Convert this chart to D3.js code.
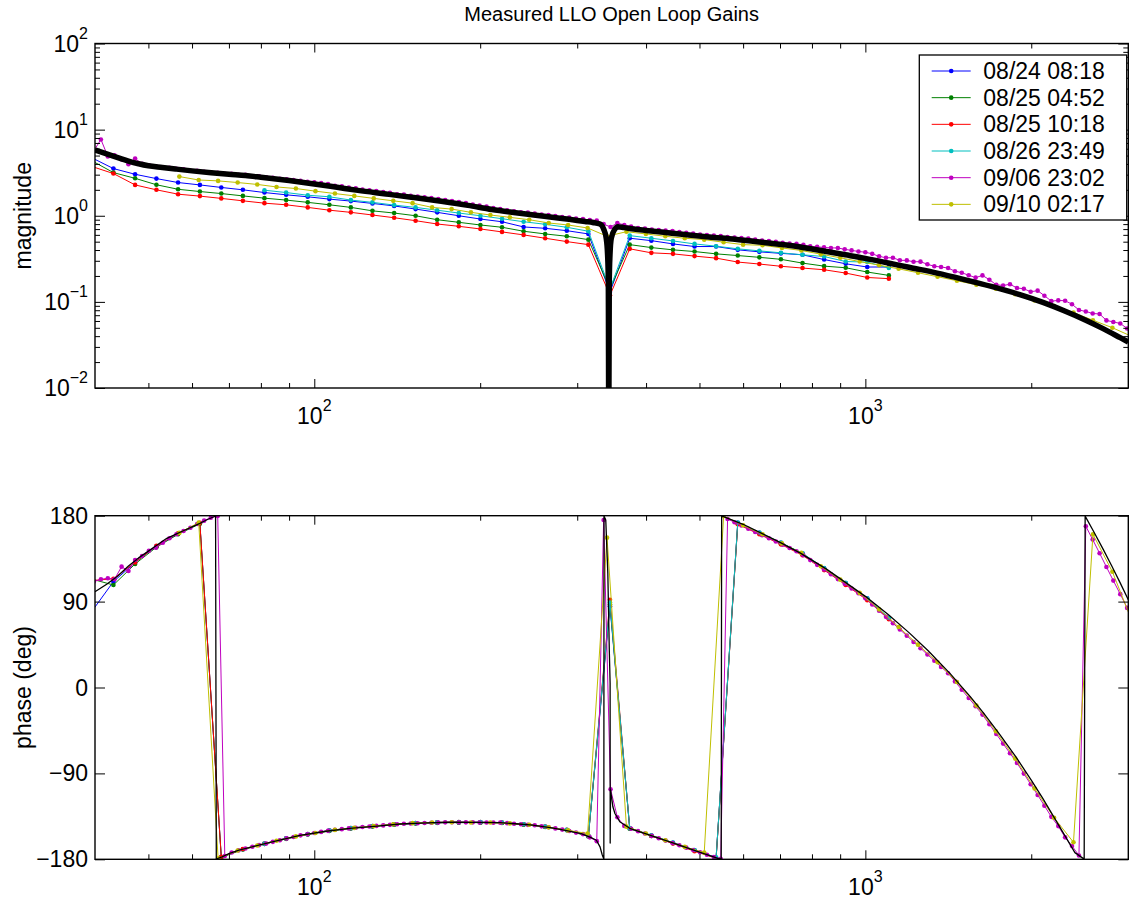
<!DOCTYPE html>
<html>
<head>
<meta charset="utf-8">
<script src="https://cdn.jsdelivr.net/npm/d3@7"></script>
<style>
  body { margin: 0; background: #fff; }
  text { font-family: "Liberation Sans", Arial, Helvetica, sans-serif; fill: #000; }
</style>
</head>
<body>
<svg id="chart" width="1129" height="902"></svg>
<script>
// ---------- chart text ----------
const titleText = "Measured LLO Open Loop Gains";
const magLabel = "magnitude";
const phaseLabel = "phase (deg)";

// ---------- axis domains and ticks ----------
const freqDomain = [40, 3000];
const magDomain = [0.01, 100];
const phaseDomain = [-180, 180];
const freqMajor = [100, 1000];
const freqMajorExp = ["2", "3"];
const freqMinor = [50, 60, 70, 80, 90, 200, 300, 400, 500, 600, 700, 800, 900, 2000, 3000];
const magMajor = [0.01, 0.1, 1, 10, 100];
const magMajorExp = ["\u22122", "\u22121", "0", "1", "2"];
const magMinor = [0.02, 0.03, 0.04, 0.05, 0.06, 0.07, 0.08, 0.09,
                  0.2, 0.3, 0.4, 0.5, 0.6, 0.7, 0.8, 0.9,
                  2, 3, 4, 5, 6, 7, 8, 9,
                  20, 30, 40, 50, 60, 70, 80, 90];
const phaseTicks = [-180, -90, 0, 90, 180];
const phaseTickLabels = ["\u2212180", "\u221290", "0", "90", "180"];

// ---------- legend ----------
const seriesNames = ["08/24 08:18", "08/25 04:52", "08/25 10:18", "08/26 23:49", "09/06 23:02", "09/10 02:17"];
const seriesColors = ["#0000ff", "#008000", "#ff0000", "#00bfbf", "#bf00bf", "#bfbf00"];

// ---------- swept-sine measurements: 08/24, 08/25 (x2) ----------
const freqSweep = [39.5, 43.2, 47.3, 51.7, 56.6, 62.0, 67.8, 74.2, 81.2, 88.9,
  97.3, 106.5, 116.5, 127.5, 139.6, 152.7, 167.1, 182.9, 200.2, 219.1,
  239.8, 262.4, 287.2, 314.3, 344, 373.6, 408.9, 447.6, 489.8, 536.0,
  586.7, 642.1, 702.6, 769.0, 841.7, 921.1, 1007.9, 1103.1];

const magBlue = [4.70, 3.53, 3.03, 2.70, 2.43, 2.28, 2.13, 2.00, 1.86, 1.75,
  1.66, 1.56, 1.48, 1.39, 1.30, 1.195, 1.095, 1.00, 0.916, 0.852,
  0.741, 0.715, 0.671, 0.615, 0.130, 0.548, 0.514, 0.471, 0.439, 0.439,
  0.402, 0.381, 0.366, 0.352, 0.310, 0.277, 0.254, 0.254];
const phaseBlue = [80, 110.9, 131, 148, 161, 172, -177.8, -169.4, -163.8, -158.2,
  -153.7, -150, -147.4, -145.3, -143.4, -142.2, -141.5, -141.3, -141.3, -141.7,
  -143.4, -145.9, -149.3, -155.6, 85, -147.5, -155.1, -162.8, -170.5, -178.3,
  172.5, 162.1, 151.5, 140.3, 124.9, 109.3, 93.2, 72.7];

const magGreen = [4.34, 3.17, 2.72, 2.29, 2.03, 1.91, 1.81, 1.70, 1.60, 1.52,
  1.43, 1.34, 1.25, 1.14, 1.075, 1.00, 0.899, 0.839, 0.781, 0.735,
  0.661, 0.615, 0.578, 0.528, 0.142, 0.462, 0.427, 0.402, 0.384, 0.361,
  0.345, 0.329, 0.312, 0.282, 0.260, 0.249, 0.222, 0.203];
const phaseGreen = [113.5, 107.4, 129.4, 147, 160.5, 171.5, -178, -169.8, -164, -158.6,
  -154, -150.4, -147.7, -145.6, -143.7, -142.5, -141.8, -141.6, -141.6, -142,
  -143.7, -146.2, -149.6, -156, 87, -148, -155.6, -163.2, -171, -178.6,
  172, 161.6, 151, 139.8, 124.4, 108.8, 92.7, 72.2];

const magRed = [3.73, 3.09, 2.28, 2.00, 1.78, 1.69, 1.59, 1.49, 1.40, 1.34,
  1.25, 1.16, 1.095, 1.02, 0.948, 0.876, 0.802, 0.754, 0.702, 0.649,
  0.599, 0.548, 0.501, 0.462, 0.119, 0.413, 0.371, 0.361, 0.340, 0.322,
  0.290, 0.275, 0.259, 0.247, 0.236, 0.216, 0.192, 0.186];
const phaseRed = [112, 114, 131, 148.5, 161.5, 172.5, -177.5, -169.2, -163.5, -158,
  -153.5, -149.8, -147.2, -145.1, -143.2, -142, -141.3, -141.1, -141.1, -141.5,
  -143.2, -145.7, -149.1, -155.3, 92, -147.2, -155.5, -163.5, -171.5, -179,
  171, 160.5, 150, 138.5, 123, 107.5, 91.5, 71.5];

// ---------- 08/26 sweep (starts at 81 Hz) ----------
const freqCyan = [81.2, 88.9, 97.3, 106.5, 116.5, 127.5, 139.6, 152.7, 167.1, 182.9,
  200.2, 219.1, 239.8, 262.4, 287.2, 314.3, 344, 373.6, 408.9, 447.6,
  489.8, 536.0, 586.7, 642.1, 702.6, 769.0, 841.7, 921.1, 1007.9, 1103.1];
const magCyan = [1.98, 1.86, 1.73, 1.66, 1.52, 1.43, 1.33, 1.25, 1.16, 1.075,
  1.00, 0.924, 0.852, 0.796, 0.735, 0.661, 0.142, 0.588, 0.548, 0.510,
  0.471, 0.443, 0.413, 0.391, 0.371, 0.352, 0.336, 0.294, 0.290, 0.247];
const phaseCyan = [-163.6, -158, -153.5, -149.8, -147.2, -145.1, -143.2, -142, -141.3, -141.1,
  -141.1, -141.5, -143.2, -145.7, -149.1, -155.3, 89, -147.3, -154.8, -162.5,
  -170.2, -178, 172.8, 162.4, 151.8, 140.6, 125.2, 109.6, 93.5, 73];

// ---------- 09/06 dense sweep ----------
const freqMagenta = [39.8, 41.0, 42.2, 43.4, 44.7, 46.0, 47.3, 48.7, 50.1, 51.6,
  53.1, 54.6, 56.2, 57.9, 59.6, 61.3, 63.1, 64.9, 66.8, 68.8,
  70.8, 72.9, 75.0, 77.2, 79.4, 81.8, 84.1, 86.6, 89.1, 91.7,
  94.4, 97.2,
  100, 102.9, 105.9, 109.0, 112.2, 115.5, 118.9, 122.3, 125.9, 129.6,
  133.4, 137.2, 141.3, 145.4, 149.6, 154.0, 158.5, 163.1, 167.9, 172.8,
  177.8, 183.0, 188.4, 193.9, 199.5, 205.4, 211.3, 217.5, 223.9, 230.4,
  237.1, 244.1, 251.2, 258.5, 266.1, 273.8, 281.8, 290.1, 298.5, 307.3,
  316.2, 325.5, 335.0, 344.8, 354.8, 365.2, 375.8, 386.8, 398.1, 409.7,
  421.7, 434.0, 446.7, 459.7, 473.2, 487.0, 501.2, 515.8, 530.9, 546.4,
  562.3, 578.8, 595.7, 613.1, 631.0, 649.4, 668.3, 687.9, 707.9, 728.6,
  749.9, 771.8, 794.3, 817.5, 841.4, 866.0, 891.3, 917.3, 944.1, 971.6,
  1000, 1029, 1059, 1090, 1122, 1155, 1189, 1223, 1259, 1296,
  1334, 1372, 1413, 1454, 1496, 1540, 1585, 1631, 1679, 1728,
  1778, 1830, 1884, 1939, 1995, 2054, 2113, 2175, 2239, 2304,
  2371, 2441, 2512, 2585, 2661, 2738, 2818, 2901, 2985, 3073];
const magMagenta = [5.67, 7.69, 4.89, 5.02, 4.52, 3.96, 4.61, 4.01, 3.85, 3.75,
  3.65, 3.60, 3.51, 3.46, 3.33, 3.33, 3.24, 3.20, 3.15, 3.07,
  3.07, 2.99, 2.99, 2.88, 2.88, 2.80, 2.76, 2.69, 2.65, 2.59,
  2.55, 2.48,
  2.45, 2.39, 2.33, 2.23, 2.20, 2.12, 2.09, 2.01, 1.98, 1.93,
  1.88, 1.85, 1.78, 1.76, 1.71, 1.67, 1.64, 1.60, 1.56, 1.52,
  1.48, 1.44, 1.40, 1.35, 1.31, 1.28, 1.23, 1.20, 1.16, 1.13,
  1.10, 1.09, 1.06, 1.03, 1.02, 0.99, 0.966, 0.953, 0.93, 0.916,
  0.892, 0.88, 0.80, 0.74, 0.823, 0.781, 0.75, 0.72, 0.711, 0.693,
  0.684, 0.674, 0.666, 0.648, 0.632, 0.623, 0.606, 0.598, 0.59, 0.583,
  0.567, 0.56, 0.552, 0.545, 0.531, 0.517, 0.510, 0.497, 0.484, 0.477,
  0.471, 0.459, 0.441, 0.435, 0.429, 0.423, 0.423, 0.407, 0.396, 0.385,
  0.377, 0.361, 0.338, 0.325, 0.325, 0.304, 0.303, 0.292, 0.293, 0.273,
  0.259, 0.254, 0.247, 0.227, 0.218, 0.204, 0.191, 0.203, 0.181, 0.158,
  0.155, 0.16, 0.145, 0.142, 0.131, 0.135, 0.118, 0.102, 0.104, 0.103,
  0.094, 0.0805, 0.0774, 0.0733, 0.0724, 0.0609, 0.0585, 0.0562, 0.0491, 0.0465];
const phaseMagenta = [111, 113.4, 114.4, 113.4, 126.6, 122, 133.6, 137.8, 143.3, 146.5,
  151.7, 156.3, 160.5, 164, 167.4, 171.3, 174.8, 177.9, 179.8, -176.5,
  -172.8, -170.6, -168.7, -166.8, -165.1, -163.4, -161.7, -160.0, -158.1, -156.6,
  -154.9, -153.7,
  -152.5, -151.3, -150.2, -149.1, -148.4, -147.6, -146.9, -146.1, -145.6, -145.0,
  -144.5, -143.9, -143.3, -142.8, -142.5, -142.2, -141.9, -141.7, -141.5, -141.3,
  -141.2, -141.2, -141.3, -141.3, -141.4, -141.5, -141.6, -141.6, -142.1, -142.7,
  -143.3, -143.9, -144.4, -145.5, -146.4, -147.6, -148.9, -150.3, -152, -153.6,
  -157, -161, 175.5, -106.6, -136, -145, -148, -150.5, -153, -155.5,
  -158, -160.4, -162.9, -165.3, -167.8, -170.3, -172.7, -175.2, -177.6, -179.6,
  176.5, 173.2, 169.8, 166.4, 163, 159.6, 156.3, 153, 149.5, 146.1,
  142.7, 138.5, 133.5, 128.5, 123.6, 118.6, 113.6, 108.7, 103.7, 98.8,
  93.5, 87, 80.5, 74, 67.4, 60.8, 54.3, 47.7, 41.2, 34.6,
  28.1, 21.5, 15, 6.4, -2.3, -11, -19.7, -28.4, -38.5, -48.7,
  -58.8, -68.9, -79, -90.2, -101.4, -112.6, -123.8, -135.5, -145.2, -157,
  -166, -176, 169, 155, 140.7, 126.3, 112, 97.8, 83.4, 69];

// ---------- 09/10 sweep ----------
const freqYellow = [56.9, 61.7, 66.9, 72.6, 78.8, 85.4, 92.6, 100.5, 109.0, 118.2,
  128.2, 139.1, 150.8, 163.6, 177.5, 192.4, 208.7, 226.4, 245.5, 266.3,
  288.8, 313.3, 339.8, 368.5, 399.7, 433.5, 470.2, 510.0, 553.1, 599.9,
  650.7, 705.7, 765.4, 830.2, 900.5, 976.6, 1059, 1149, 1246, 1352,
  1466, 1590, 1725, 1870, 2028, 2200, 2386, 2588, 2807, 3044];
const magYellow = [2.85, 2.60, 2.54, 2.43, 2.31, 2.16, 2.07, 1.93, 1.81, 1.70,
  1.59, 1.49, 1.40, 1.25, 1.195, 1.095, 1.02, 0.958, 0.899, 0.824,
  0.781, 0.721, 0.578, 0.653, 0.615, 0.578, 0.548, 0.528, 0.493, 0.462,
  0.454, 0.423, 0.395, 0.358, 0.325, 0.294, 0.267, 0.242, 0.218, 0.196,
  0.176, 0.158, 0.142, 0.123, 0.104, 0.0892, 0.0752, 0.0612, 0.0501, 0.0397];
const phaseYellow = [162, 172.7, -179, -170.8, -165.6, -160.6, -156, -152.4, -149.2, -147.1,
  -145.2, -143.3, -142.1, -141.5, -141.2, -141.4, -141.5, -142.4, -143.8, -146.5,
  -149.7, -153, 157, -145.8, -153, -160, -167, -173, 179.6, 170,
  160.5, 151, 141, 127, 113, 99.1, 81.9, 63.4, 44.9, 26.5,
  5.7, -18.8, -45.9, -74.5, -105.8, -136.4, -162.2, 160.5, 121.3, 70];

// ---------- loop model ----------
const freqModelMag = [40, 42, 44, 46, 48, 50, 53, 56, 60, 65,
  70, 75, 80, 90, 100, 110, 120, 135, 150, 170,
  190, 210, 230, 250, 270, 290, 310, 320, 330, 335,
  338.6, 340.6, 341.6, 342.3, 343.0, 344.0, 345.9, 351.2, 355.6, 365,
  380, 400, 430, 470, 520, 580, 650, 730, 820, 920,
  1000, 1100, 1200, 1350, 1500, 1700, 1900, 2100, 2300, 2500,
  2700, 2900, 3000];
const magModel = [5.79, 5.22, 4.74, 4.32, 4.02, 3.81, 3.64, 3.49, 3.32, 3.16,
  3.03, 2.93, 2.80, 2.56, 2.34, 2.14, 1.97, 1.79, 1.64, 1.47,
  1.32, 1.18, 1.09, 1.02, 0.961, 0.909, 0.857, 0.835, 0.80, 0.70,
  0.55, 0.35, 0.18, 0.003, 0.18, 0.35, 0.55, 0.70, 0.745, 0.728,
  0.70, 0.675, 0.643, 0.605, 0.566, 0.533, 0.492, 0.452, 0.400, 0.352,
  0.320, 0.283, 0.252, 0.216, 0.184, 0.150, 0.122, 0.0985, 0.0783, 0.0620,
  0.0489, 0.0384, 0.0342];

const freqModelPhase = [40, 42, 44, 46, 48, 50, 52, 54, 56, 58,
  60, 62, 64, 66.2, 66.4, 68, 70, 73, 76.5, 80,
  85, 94.2, 105, 116, 130, 143, 160, 176, 195, 217,
  235, 249, 270, 287, 305, 318, 325, 330, 333, 335.3,
  335.5, 338, 340.9, 343, 344.2, 344.3, 344.8, 348.2, 351.2, 358.4,
  373.6, 400, 450, 500, 540, 547.5, 548.5, 600, 700, 761,
  850, 1000, 1100, 1200, 1300, 1425, 1550, 1635, 1750, 1877,
  2000, 2100, 2200, 2300, 2400, 2495, 2505, 2600, 2700, 2800,
  2900, 3000];
const phaseModel = [100.4, 108.2, 116.9, 127.2, 135.8, 142.9, 149.8, 156.3, 160.5, 164.5,
  168.3, 172, 176, 179.7, -179.7, -177.5, -174.1, -170.4, -167.4, -164.6,
  -161, -155, -150.6, -147.5, -145.2, -143, -141.9, -141.2, -141.4, -141.6,
  -143, -144.1, -147, -149.9, -153.2, -157.3, -160, -167, -175.2, -179.8,
  179.8, 175.5, 120, 40, 4.4, -163, -107, -125, -132, -140.6,
  -147.5, -153.3, -163.4, -172.4, -179, -179.9, 179.9, 171, 152, 141,
  124, 95.5, 76.5, 57.5, 38.5, 14.5, -9.5, -26, -48.5, -73,
  -97, -116.5, -136, -155, -173, -179.8, 179.5, 162.7, 145, 127.3,
  109.6, 91.9];

// ---------- layout ----------
const svg = d3.select("#chart");
const plotLeft = 95, plotRight = 1128.3;
const magTop = 43.5, magBottom = 388;
const phTop = 515.7, phBottom = 859.3;
const fontSize = 23, supSize = 16;

const x = d3.scaleLog().domain(freqDomain).range([plotLeft, plotRight]);
const yMag = d3.scaleLog().domain(magDomain).range([magBottom, magTop]);
const yPh = d3.scaleLinear().domain(phaseDomain).range([phBottom, phTop]);

const zip = (a, b) => a.map((v, i) => [v, b[i]]);

const measured = [
  { f: freqSweep, m: magBlue, p: phaseBlue },
  { f: freqSweep, m: magGreen, p: phaseGreen },
  { f: freqSweep, m: magRed, p: phaseRed },
  { f: freqCyan, m: magCyan, p: phaseCyan },
  { f: freqMagenta, m: magMagenta, p: phaseMagenta },
  { f: freqYellow, m: magYellow, p: phaseYellow }
];

// clip regions
const defs = svg.append("defs");
defs.append("clipPath").attr("id", "clipMag").append("rect")
  .attr("x", plotLeft).attr("y", magTop).attr("width", plotRight - plotLeft).attr("height", magBottom - magTop);
defs.append("clipPath").attr("id", "clipPh").append("rect")
  .attr("x", plotLeft).attr("y", phTop).attr("width", plotRight - plotLeft).attr("height", phBottom - phTop);

function drawPanel(yScale, clipId, valueKey, model, modelWidth, modelCurve) {
  const g = svg.append("g").attr("clip-path", `url(#${clipId})`);
  const line = d3.line().x(d => x(d[0])).y(d => yScale(d[1]));
  measured.forEach((s, i) => {
    const pts = zip(s.f, s[valueKey]);
    g.append("path").datum(pts)
      .attr("fill", "none").attr("stroke", seriesColors[i]).attr("stroke-width", 1)
      .attr("d", line);
    g.selectAll(null).data(pts).enter().append("circle")
      .attr("cx", d => x(d[0])).attr("cy", d => yScale(d[1]))
      .attr("r", 2.3).attr("fill", seriesColors[i]);
  });
  g.append("path").datum(model)
    .attr("fill", "none").attr("stroke", "#000").attr("stroke-width", modelWidth)
    .attr("stroke-linejoin", "round")
    .attr("d", line.curve(modelCurve));
}

drawPanel(yMag, "clipMag", "m", zip(freqModelMag, magModel), 5.5, d3.curveMonotoneX);
drawPanel(yPh, "clipPh", "p", zip(freqModelPhase, phaseModel), 1.3, d3.curveLinear);

// ---------- axes (ticks inside on all four sides) ----------
function ticksX(top, bottom) {
  const mk = (axisFn, y, vals, len) => svg.append("g")
    .attr("transform", `translate(0,${y})`)
    .call(axisFn(x).tickValues(vals).tickSize(len).tickFormat(""))
    .call(g => g.select(".domain").remove())
    .call(g => g.selectAll("line").attr("stroke", "#000").attr("stroke-width", 1));
  mk(d3.axisBottom, bottom, freqMajor, -9);
  mk(d3.axisBottom, bottom, freqMinor, -5);
  mk(d3.axisTop, top, freqMajor, -9);
  mk(d3.axisTop, top, freqMinor, -5);
}
function ticksY(scale, majors, minors) {
  const mk = (axisFn, xPos, vals, len) => svg.append("g")
    .attr("transform", `translate(${xPos},0)`)
    .call(axisFn(scale).tickValues(vals).tickSize(len).tickFormat(""))
    .call(g => g.select(".domain").remove())
    .call(g => g.selectAll("line").attr("stroke", "#000").attr("stroke-width", 1));
  mk(d3.axisLeft, plotLeft, majors, -10);
  mk(d3.axisRight, plotRight, majors, -10);
  if (minors) {
    mk(d3.axisLeft, plotLeft, minors, -5);
    mk(d3.axisRight, plotRight, minors, -5);
  }
}
ticksX(magTop, magBottom);
ticksX(phTop, phBottom);
ticksY(yMag, magMajor, magMinor);
ticksY(yPh, phaseTicks, null);

// frames
[[magTop, magBottom], [phTop, phBottom]].forEach(([t, b]) => {
  svg.append("rect").attr("x", plotLeft).attr("y", t)
    .attr("width", plotRight - plotLeft).attr("height", b - t)
    .attr("fill", "none").attr("stroke", "#000").attr("stroke-width", 1.4);
});

// x tick labels (10^n)
[magBottom, phBottom].forEach(b => {
  const lbl = svg.append("g").selectAll("text").data(freqMajor).enter().append("text")
    .attr("x", d => x(d)).attr("y", b + 36)
    .attr("text-anchor", "middle").style("font-size", fontSize + "px");
  lbl.append("tspan").text("10");
  lbl.append("tspan").attr("dy", -13).style("font-size", supSize + "px")
    .text((d, i) => freqMajorExp[i]);
});

// magnitude tick labels
{
  const lbl = svg.append("g").selectAll("text").data(magMajor).enter().append("text")
    .attr("x", 88).attr("y", d => yMag(d) + 8)
    .attr("text-anchor", "end").style("font-size", fontSize + "px");
  lbl.append("tspan").text("10");
  lbl.append("tspan").attr("dy", -13).style("font-size", supSize + "px")
    .text((d, i) => magMajorExp[i]);
}
// phase tick labels
svg.append("g").selectAll("text").data(phaseTicks).enter().append("text")
  .attr("x", 88).attr("y", d => yPh(d) + 8)
  .attr("text-anchor", "end").style("font-size", fontSize + "px")
  .text((d, i) => phaseTickLabels[i]);

// title and axis labels
svg.append("text").attr("x", (plotLeft + plotRight) / 2).attr("y", 21)
  .attr("text-anchor", "middle").style("font-size", "20px").text(titleText);
svg.append("text").attr("transform", `translate(31,${(magTop + magBottom) / 2}) rotate(-90)`)
  .attr("text-anchor", "middle").style("font-size", "23px").text(magLabel);
svg.append("text").attr("transform", `translate(31,${(phTop + phBottom) / 2}) rotate(-90)`)
  .attr("text-anchor", "middle").style("font-size", "23px").text(phaseLabel);

// ---------- legend ----------
const legend = svg.append("g");
legend.append("rect").attr("x", 919.3).attr("y", 55).attr("width", 207.4).attr("height", 165)
  .attr("fill", "#fff").attr("stroke", "#000").attr("stroke-width", 1.3);
seriesNames.forEach((name, i) => {
  const yy = 71 + i * 26.67;
  legend.append("line").attr("x1", 931.7).attr("x2", 970.7).attr("y1", yy).attr("y2", yy)
    .attr("stroke", seriesColors[i]).attr("stroke-width", 1);
  legend.append("circle").attr("cx", 951.2).attr("cy", yy).attr("r", 2.3).attr("fill", seriesColors[i]);
  legend.append("text").attr("x", 983.3).attr("y", yy + 8).style("font-size", fontSize + "px").text(name);
});
</script>
</body>
</html>
